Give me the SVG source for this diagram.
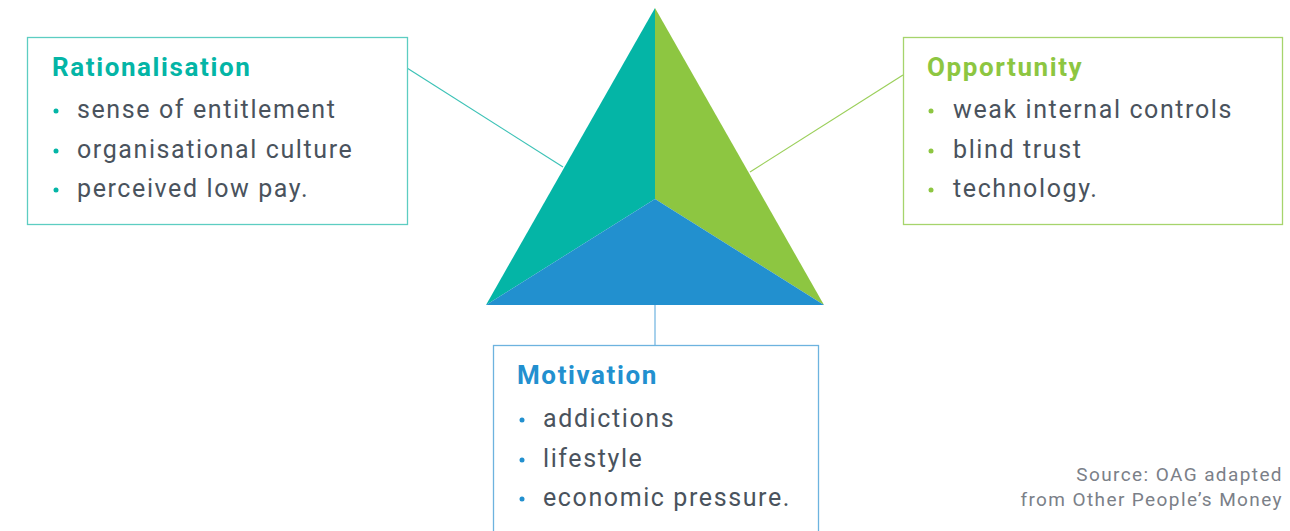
<svg xmlns="http://www.w3.org/2000/svg" width="1290" height="531" viewBox="0 0 1290 531">
  <style>
    .box { fill: #ffffff; stroke-width: 1.3; }
    .title { font-family: Roboto, "Liberation Sans", sans-serif; font-size: 26px; font-weight: 700; letter-spacing: 1.6px; }
    .item { font-family: Roboto, "Liberation Sans", sans-serif; font-size: 25px; fill: #4a535d; letter-spacing: 1.6px; }
    .src { font-family: Roboto, "Liberation Sans", sans-serif; font-size: 19px; fill: #7b8088; text-anchor: end; letter-spacing: 1.4px; }
    .teal { fill: #04b5a6; }
    .green { fill: #8dc641; }
    .blue { fill: #2290cf; }
  </style>

  <!-- connectors -->
  <g id="connectors" fill="none" stroke-width="1.2">
    <line x1="407" y1="68" x2="563" y2="167" stroke="#3cc2b6"/>
    <line x1="903" y1="75" x2="750" y2="172" stroke="#9bcf5a"/>
    <line x1="655" y1="305" x2="655" y2="345" stroke="#6db3df"/>
  </g>

  <!-- triangle -->
  <g id="triangle">
    <polygon points="655,8 655,199 486,305" class="teal"/>
    <polygon points="655,8 824,305 655,199" class="green"/>
    <polygon points="486,305 655,199 824,305" class="blue"/>
  </g>

  <!-- Rationalisation -->
  <g id="rationalisation">
    <rect x="27.5" y="37.5" width="380" height="187" class="box" stroke="#5dcdc2"/>
    <text x="52" y="76" class="title teal">Rationalisation</text>
    <circle cx="56" cy="111" r="2.5" class="teal"/>
    <circle cx="56" cy="151" r="2.5" class="teal"/>
    <circle cx="56" cy="190" r="2.5" class="teal"/>
    <text x="77" y="118" class="item">sense of entitlement</text>
    <text x="77" y="158" class="item">organisational culture</text>
    <text x="77" y="197" class="item">perceived low pay.</text>
  </g>

  <!-- Opportunity -->
  <g id="opportunity">
    <rect x="903.5" y="37.5" width="379" height="187" class="box" stroke="#a6d46c"/>
    <text x="927" y="76" class="title green">Opportunity</text>
    <circle cx="931" cy="111" r="2.5" class="green"/>
    <circle cx="931" cy="151" r="2.5" class="green"/>
    <circle cx="931" cy="190" r="2.5" class="green"/>
    <text x="953" y="118" class="item">weak internal controls</text>
    <text x="953" y="158" class="item">blind trust</text>
    <text x="953" y="197" class="item">technology.</text>
  </g>

  <!-- Motivation -->
  <g id="motivation">
    <rect x="493.5" y="345.5" width="325" height="200" class="box" stroke="#6db3df"/>
    <text x="517" y="384" class="title blue">Motivation</text>
    <circle cx="522" cy="420" r="2.5" class="blue"/>
    <circle cx="522" cy="460" r="2.5" class="blue"/>
    <circle cx="522" cy="499" r="2.5" class="blue"/>
    <text x="543" y="427" class="item">addictions</text>
    <text x="543" y="467" class="item">lifestyle</text>
    <text x="543" y="506" class="item">economic pressure.</text>
  </g>

  <!-- source note -->
  <g id="source">
    <text x="1283" y="481" class="src">Source: OAG adapted</text>
    <text x="1283" y="506" class="src">from Other People’s Money</text>
  </g>
</svg>
